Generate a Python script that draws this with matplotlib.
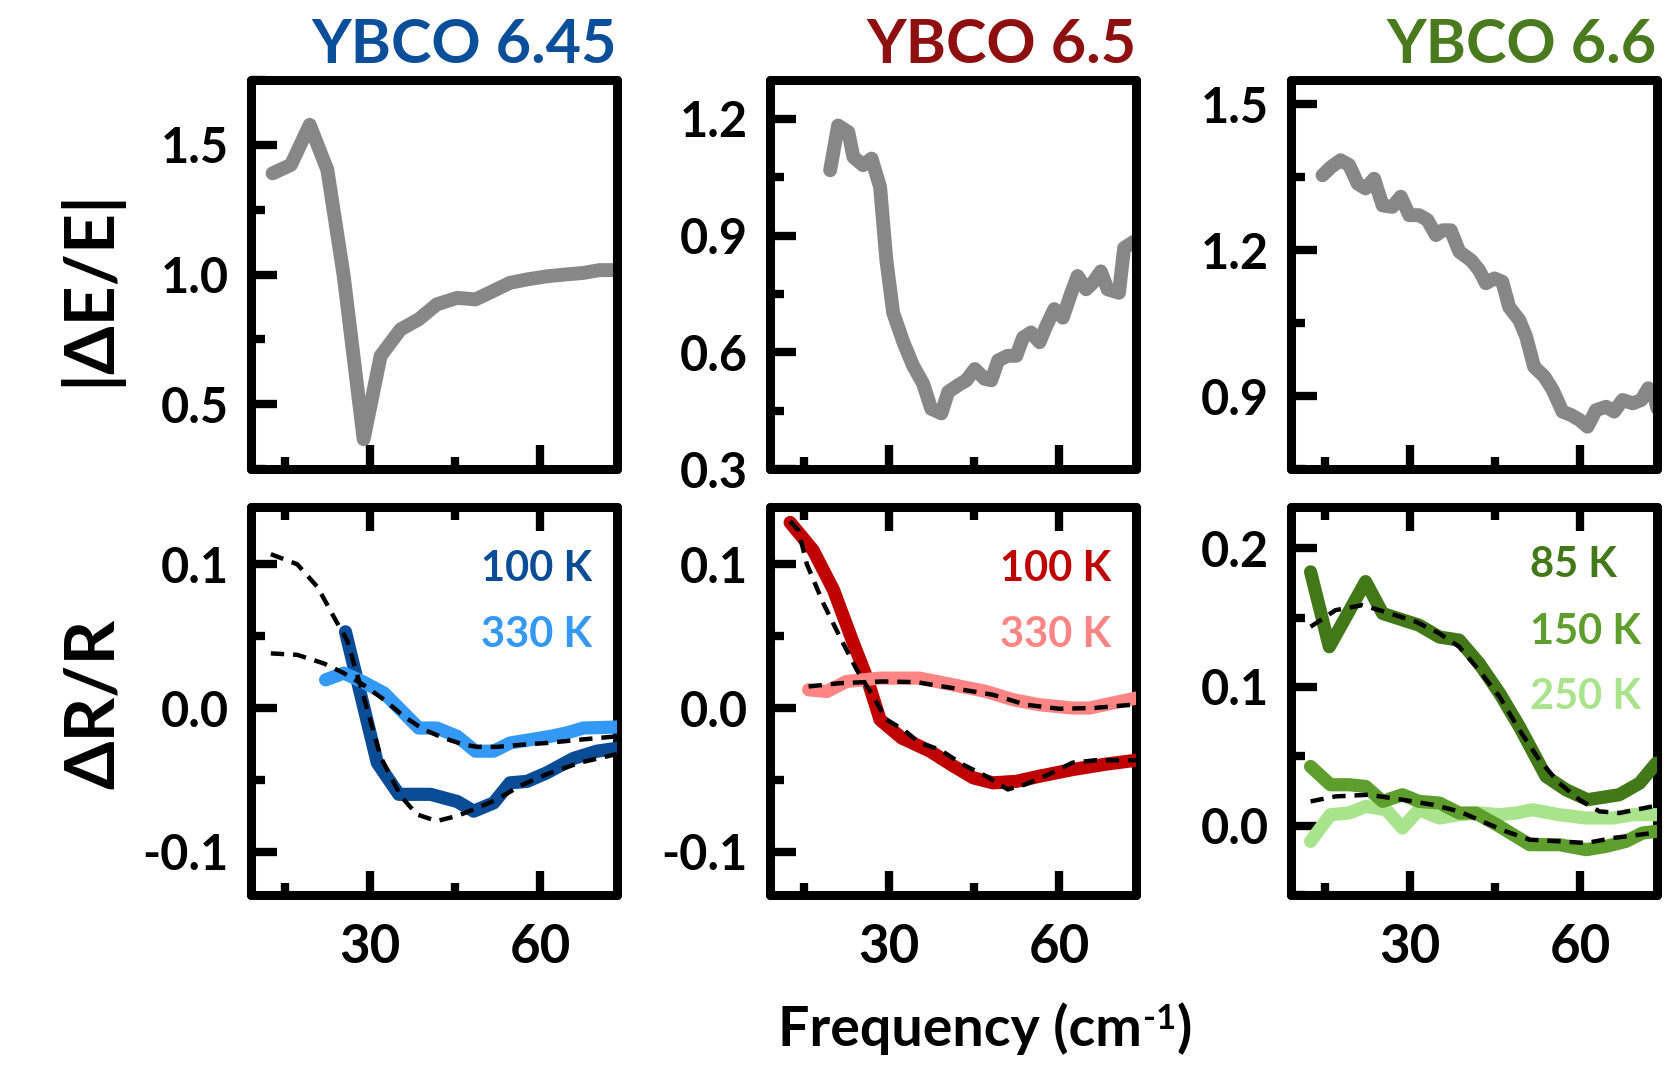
import matplotlib
matplotlib.use("Agg")
import matplotlib.pyplot as plt
from matplotlib.ticker import MultipleLocator

plt.rcParams['font.family'] = ['Lato', 'DejaVu Sans']
plt.rcParams['font.weight'] = 'bold'
plt.rcParams['axes.unicode_minus'] = False

# ---- data: top row |dE/E| ----
e645_x = [12.85, 16.1, 19.4, 22.5, 25.4, 28.9, 31.9, 35.4, 38.6, 41.8, 45.4, 48.6, 51.6,
          54.7, 57.7, 61.2, 64.4, 67.6, 70.5, 73.5]
e645_y = [1.39, 1.423, 1.577, 1.404, 0.993, 0.365, 0.686, 0.788, 0.827, 0.885, 0.910, 0.904,
          0.935, 0.968, 0.981, 0.993, 1.0, 1.006, 1.017, 1.017]

e65_x = [19.6, 21.0, 22.8, 23.7, 25.4, 26.9, 28.4, 29.5, 30.7, 32.5, 34.2, 36.0, 37.4, 39.2,
         40.4, 42.1, 43.6, 45.1, 46.8, 48.0, 49.2, 50.9, 52.4, 53.6, 55.0, 56.5, 57.7, 59.1,
         60.6, 62.1, 63.2, 64.7, 65.9, 67.3, 68.5, 70.5, 71.4, 73.2]
e65_y = [1.068, 1.183, 1.166, 1.102, 1.081, 1.098, 1.025, 0.838, 0.702, 0.626, 0.566, 0.519,
         0.455, 0.443, 0.498, 0.515, 0.528, 0.557, 0.532, 0.528, 0.579, 0.591, 0.591, 0.638,
         0.651, 0.626, 0.668, 0.711, 0.689, 0.753, 0.796, 0.762, 0.779, 0.808, 0.762, 0.753,
         0.868, 0.885]

e66_x = [14.6, 16.1, 17.8, 19.3, 20.8, 22.2, 23.7, 25.2, 26.9, 28.4, 29.9, 31.6, 33.1, 34.6,
         35.8, 37.2, 38.7, 40.8, 42.2, 43.4, 44.9, 46.3, 47.5, 49.3, 50.5, 51.9, 53.7, 55.2,
         56.9, 58.4, 59.9, 61.3, 62.8, 64.6, 66.0, 67.5, 69.3, 70.8, 72.0, 73.1, 73.6]
e66_y = [1.354, 1.371, 1.385, 1.375, 1.337, 1.327, 1.347, 1.292, 1.289, 1.310, 1.272, 1.272,
         1.262, 1.231, 1.241, 1.241, 1.197, 1.179, 1.159, 1.132, 1.142, 1.135, 1.083, 1.056,
         1.022, 0.960, 0.940, 0.912, 0.868, 0.861, 0.851, 0.837, 0.871, 0.878, 0.868, 0.892,
         0.885, 0.892, 0.916, 0.899, 0.875]

# ---- data: bottom row dR/R ----
r645_100_x = [25.7, 31.3, 35.1, 40.7, 45.4, 48.3, 51.8, 54.7, 57.7, 61.2, 65.9, 70.0, 73.5]
r645_100_y = [0.053, -0.038, -0.060, -0.060, -0.065, -0.0717, -0.066, -0.052, -0.051, -0.045,
              -0.035, -0.030, -0.028]
f645_100_x = [12.55, 17.2, 20.8, 23.7, 26.0, 28.9, 31.9, 35.4, 38.3, 41.8, 45.4, 48.3, 52.4,
              56.5, 61.2, 67.0, 73.5]
f645_100_y = [0.107, 0.100, 0.084, 0.063, 0.047, 0.008, -0.034, -0.061, -0.074, -0.0786,
              -0.075, -0.0705, -0.0636, -0.054, -0.046, -0.038, -0.032]
r645_330_x = [22.2, 25.4, 28.9, 32.5, 36.0, 38.6, 41.8, 45.4, 48.6, 51.8, 54.7, 58.3, 61.8,
              64.7, 67.6, 73.5]
r645_330_y = [0.0196, 0.0243, 0.018, 0.0104, -0.0035, -0.0139, -0.0139, -0.0197, -0.030,
              -0.030, -0.0243, -0.022, -0.0197, -0.0173, -0.0139, -0.0132]
f645_330_x = [12.55, 17.2, 21.9, 25.4, 28.9, 32.5, 36.0, 39.5, 43.0, 46.5, 48.9, 52.4, 57.1,
              61.2, 67.0, 73.5]
f645_330_y = [0.038, 0.037, 0.031, 0.0243, 0.016, 0.0058, -0.0058, -0.015, -0.0208, -0.0254,
              -0.027, -0.027, -0.0254, -0.0243, -0.022, -0.0197]

r65_100_x = [12.55, 16.6, 20.2, 23.7, 26.0, 28.4, 32.2, 37.2, 41.2, 44.8, 48.3, 52.4, 56.5,
             62.3, 68.2, 73.5]
r65_100_y = [0.129, 0.1097, 0.082, 0.045, 0.0219, -0.0081, -0.0208, -0.030, -0.040, -0.0485,
             -0.052, -0.051, -0.0474, -0.0428, -0.039, -0.0363]
f65_100_x = [12.55, 14.0, 15.5, 18.4, 21.3, 24.3, 27.2, 29.5, 32.5, 35.4, 38.9, 43.0, 47.1,
             50.9, 54.1, 58.2, 62.3, 66.4, 72.3, 73.5]
f65_100_y = [0.130, 0.1236, 0.100, 0.0728, 0.0496, 0.0265, 0.008, -0.008, -0.015, -0.0243,
             -0.0289, -0.0393, -0.0474, -0.0566, -0.053, -0.046, -0.038, -0.0363, -0.0363,
             -0.0363]
r65_330_x = [15.8, 19.0, 22.5, 28.4, 35.4, 41.2, 47.1, 51.8, 56.5, 62.3, 65.3, 69.4, 73.5]
r65_330_y = [0.0127, 0.0115, 0.0185, 0.0208, 0.0208, 0.0162, 0.0115, 0.0058, 0.0023, 0.0,
             0.0, 0.0035, 0.0069]
f65_330_x = [15.8, 21.3, 28.9, 34.8, 41.2, 48.3, 54.1, 60.0, 65.9, 72.9]
f65_330_y = [0.015, 0.0173, 0.0185, 0.018, 0.0139, 0.0092, 0.0023, -0.0005, 0.0, 0.0023]

r66_85_x = [12.5, 15.8, 22.2, 25.2, 31.6, 35.2, 38.7, 42.2, 45.8, 49.3, 54.0, 57.5, 61.3,
            66.9, 70.5, 73.4]
r66_85_y = [0.183, 0.129, 0.176, 0.153, 0.1446, 0.136, 0.1338, 0.117, 0.0955, 0.0714, 0.0355,
            0.0259, 0.0187, 0.0223, 0.0307, 0.045]
f66_85_x = [12.5, 16.9, 21.6, 25.8, 31.1, 35.2, 38.7, 42.2, 45.8, 49.3, 52.8, 56.3, 59.9,
            63.4, 66.9, 72.8]
f66_85_y = [0.1434, 0.1554, 0.159, 0.154, 0.147, 0.1386, 0.129, 0.112, 0.093, 0.069, 0.0475,
            0.0307, 0.0187, 0.0103, 0.0091, 0.0139]
r66_150_x = [12.5, 16.0, 19.3, 22.2, 25.2, 28.7, 31.6, 35.2, 38.7, 41.6, 45.8, 51.1, 56.3,
             61.1, 64.6, 68.1, 71.0, 73.4]
r66_150_y = [0.0427, 0.0295, 0.0295, 0.0283, 0.0175, 0.0223, 0.0175, 0.0163, 0.0091, 0.0091,
             -0.0005, -0.0137, -0.0137, -0.0173, -0.0149, -0.0113, -0.0053, -0.0041]
f66_150_x = [12.5, 16.9, 22.8, 28.7, 34.0, 38.7, 43.4, 46.9, 51.1, 56.3, 61.1, 65.8, 72.8]
f66_150_y = [0.0175, 0.0211, 0.0223, 0.0187, 0.0151, 0.0103, 0.0019, -0.0041, -0.0101,
             -0.0113, -0.0125, -0.0089, -0.0053]
r66_250_x = [12.5, 16.0, 19.3, 22.2, 25.8, 28.7, 31.6, 35.2, 38.7, 42.2, 45.8, 48.7, 51.6,
             56.3, 61.1, 65.8, 69.3, 73.4]
r66_250_y = [-0.0113, 0.0079, 0.0091, 0.0139, 0.0115, -0.0017, 0.0115, 0.0055, 0.0079, 0.0091,
             0.0079, 0.0091, 0.0115, 0.0079, 0.0055, 0.0055, 0.0079, 0.0079]

titles = ["YBCO 6.45", "YBCO 6.5", "YBCO 6.6"]
title_colors = ["#0B4E9A", "#8E0F0F", "#4A7A1E"]

GRAY = "#878787"
FW, FH = 1675, 1067

fig = plt.figure(figsize=(16.75, 10.67), dpi=100)

lefts = [250.7, 770.0, 1290.7]
width = 366.0
top_row = (80.0, 469.0)
bot_row = (506.7, 895.0)


def makeAxes(Left, Row):
    top, bottom = Row
    return fig.add_axes([Left / FW, 1 - bottom / FH, width / FW, (bottom - top) / FH])


def styleAxes(ax, Ylim, Ymaj, Ymin, Bottom_Row):
    ax.set_xlim(9, 73.5)
    ax.set_ylim(*Ylim)
    ax.xaxis.set_major_locator(MultipleLocator(30))
    ax.xaxis.set_minor_locator(MultipleLocator(15))
    ax.yaxis.set_major_locator(MultipleLocator(Ymaj))
    ax.yaxis.set_minor_locator(MultipleLocator(Ymin))
    for s in ax.spines.values():
        s.set_linewidth(6.5)
        s.set_capstyle('round')
        s.set_joinstyle('round')
    ax.tick_params(axis='y', which='both', direction='in', left=True, right=False,
                   width=6, labelsize=35, pad=16)
    ax.tick_params(axis='y', which='major', length=19)
    ax.tick_params(axis='y', which='minor', length=10)
    ax.tick_params(axis='x', which='both', direction='in', bottom=True, top=Bottom_Row,
                   width=6, labelsize=38, pad=20, labelbottom=Bottom_Row)
    ax.tick_params(axis='x', which='major', length=17)
    ax.tick_params(axis='x', which='minor', length=9)
    for lab in ax.get_xticklabels() + ax.get_yticklabels():
        lab.set_fontweight('bold')


def fitLine(ax, X, Y):
    ax.plot(X, Y, color='black', lw=3.2, ls=(0, (3.0, 2.0)), zorder=5)


def dataLine(ax, X, Y, Color):
    ax.plot(X, Y, color=Color, lw=9.5, solid_capstyle='round', solid_joinstyle='round', zorder=3)


# top row
top_data = [(e645_x, e645_y, (0.25, 1.75), 0.5, 0.25),
            (e65_x, e65_y, (0.3, 1.3), 0.3, 0.15),
            (e66_x, e66_y, (0.75, 1.55), 0.3, 0.15)]
for i, (xx, yy, ylim, ymaj, ymin) in enumerate(top_data):
    ax = makeAxes(lefts[i], top_row)
    ax.plot(xx, yy, color=GRAY, lw=10, solid_capstyle='round', solid_joinstyle='round')
    styleAxes(ax, ylim, ymaj, ymin, False)
    ax.text(1.0, 1.044, titles[i], transform=ax.transAxes, ha='right', va='baseline',
            fontsize=44, fontweight='bold', color=title_colors[i])

# bottom row
ax = makeAxes(lefts[0], bot_row)
dataLine(ax, r645_100_x, r645_100_y, "#0A4C96")
dataLine(ax, r645_330_x, r645_330_y, "#3399F5")
fitLine(ax, f645_100_x, f645_100_y)
fitLine(ax, f645_330_x, f645_330_y)
styleAxes(ax, (-0.13, 0.14), 0.1, 0.05, True)
ax.text(49.6, 0.097, "100 K", color="#0A4C96", fontsize=30, fontweight='bold', va='center')
ax.text(49.6, 0.051, "330 K", color="#3399F5", fontsize=30, fontweight='bold', va='center')

ax = makeAxes(lefts[1], bot_row)
dataLine(ax, r65_100_x, r65_100_y, "#C00000")
dataLine(ax, r65_330_x, r65_330_y, "#FF8585")
fitLine(ax, f65_100_x, f65_100_y)
fitLine(ax, f65_330_x, f65_330_y)
styleAxes(ax, (-0.13, 0.14), 0.1, 0.05, True)
ax.text(49.6, 0.097, "100 K", color="#C00000", fontsize=30, fontweight='bold', va='center')
ax.text(49.6, 0.051, "330 K", color="#FF8585", fontsize=30, fontweight='bold', va='center')

ax = makeAxes(lefts[2], bot_row)
dataLine(ax, r66_250_x, r66_250_y, "#A9E48C")
dataLine(ax, r66_150_x, r66_150_y, "#5E9E2C")
dataLine(ax, r66_85_x, r66_85_y, "#427818")
fitLine(ax, f66_85_x, f66_85_y)
fitLine(ax, f66_150_x, f66_150_y)
styleAxes(ax, (-0.05, 0.23), 0.1, 0.05, True)
ax.text(51.2, 0.188, "85 K", color="#427818", fontsize=30, fontweight='bold', va='center')
ax.text(51.2, 0.140, "150 K", color="#5E9E2C", fontsize=30, fontweight='bold', va='center')
ax.text(51.2, 0.093, "250 K", color="#A9E48C", fontsize=30, fontweight='bold', va='center')

# shared labels
fig.text(89 / FW, 1 - 287 / FH, "|ΔE/E|", rotation=90, ha='center', va='center',
         fontsize=50, fontweight='bold')
fig.text(94 / FW, 1 - 704 / FH, "ΔR/R", rotation=90, ha='center', va='center',
         fontsize=50, fontweight='bold')

# x label with a plain hyphen superscript, laid out piece by piece
renderer = fig.canvas.get_renderer()
base_y = 1 - 1046 / FH
sup_y = 1 - (1046 - 17) / FH
parts = [("Frequency (cm", 40, base_y), ("-1", 25, sup_y), (")", 40, base_y)]
texts = [fig.text(0, yy, s, fontsize=fs, fontweight='bold', va='baseline')
         for s, fs, yy in parts]
widths = [t.get_window_extent(renderer).width for t in texts]
x0 = 984 - sum(widths) / 2
for t, w in zip(texts, widths):
    t.set_x(x0 / FW)
    x0 += w + 1

fig.savefig("out.png", dpi=100)
